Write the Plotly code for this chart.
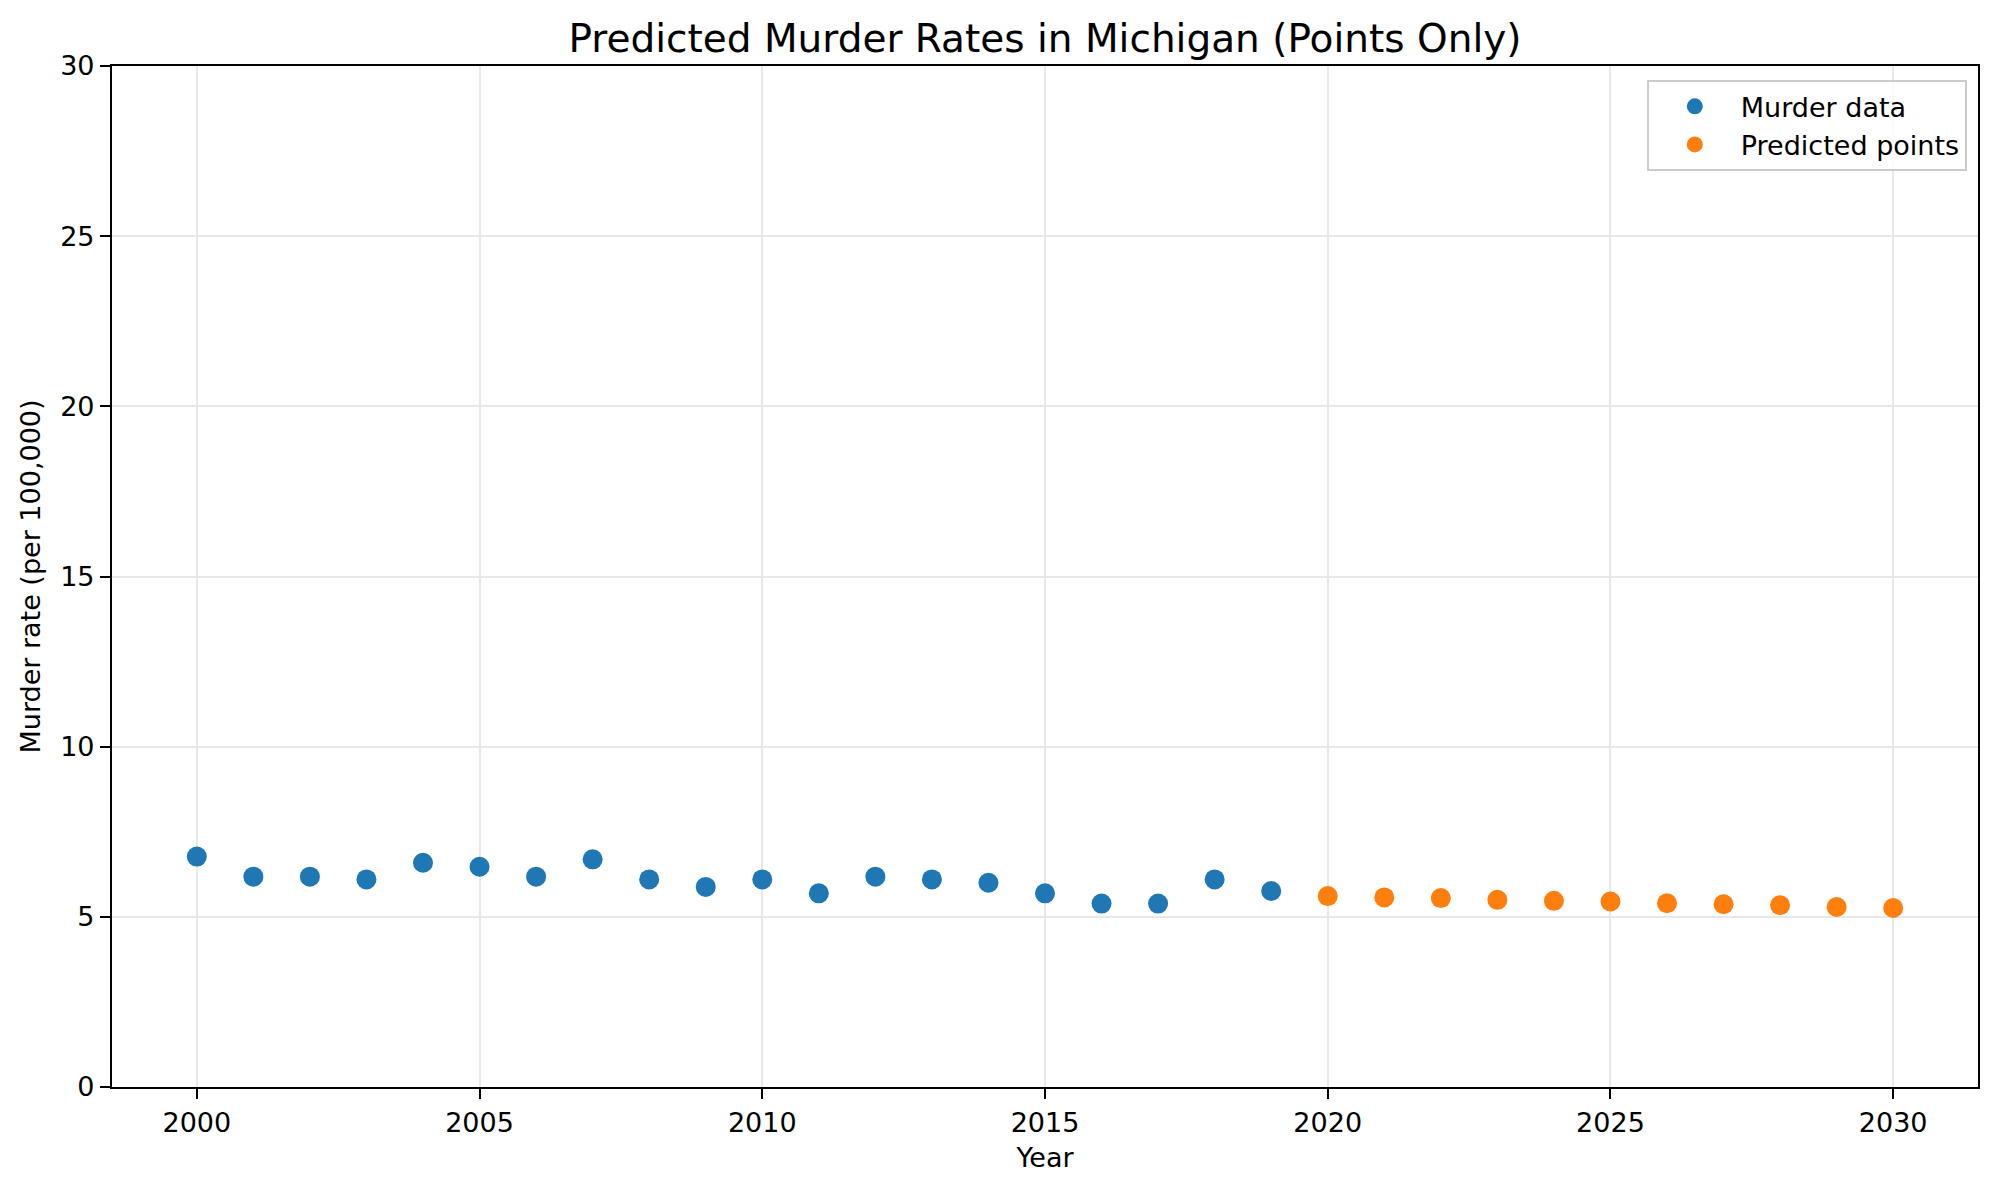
import plotly.graph_objects as go

years_actual = list(range(2000, 2020))
rates_actual = [6.77, 6.18, 6.18, 6.10, 6.59, 6.47, 6.18, 6.69, 6.10, 5.88,
                6.10, 5.69, 6.18, 6.10, 6.00, 5.69, 5.39, 5.39, 6.10, 5.76]
years_pred = list(range(2020, 2031))
rates_pred = [5.61, 5.57, 5.55, 5.50, 5.47, 5.45, 5.40, 5.37, 5.34, 5.29, 5.26]

x_ticks = [2000, 2005, 2010, 2015, 2020, 2025, 2030]
y_ticks = [0, 5, 10, 15, 20, 25, 30]

FONT = "DejaVu Sans"
W, H = 1984, 1175

fig = go.Figure()
fig.add_trace(go.Scatter(x=years_actual, y=rates_actual, mode="markers",
                         name="Murder data",
                         marker=dict(color="#1f77b4", size=20, line=dict(width=0))))
fig.add_trace(go.Scatter(x=years_pred, y=rates_pred, mode="markers",
                         name="Predicted points",
                         marker=dict(color="#ff7f0e", size=20, line=dict(width=0))))

axis_common = dict(showline=True, linecolor="black", linewidth=2.2, mirror=True,
                   ticks="outside", ticklen=10, tickwidth=2.2, tickcolor="black",
                   showgrid=True, gridcolor="#e8e8e8", gridwidth=2,
                   zeroline=False, tickfont=dict(family=FONT, size=27, color="black"))

fig.update_layout(
    width=W, height=H,
    paper_bgcolor="white", plot_bgcolor="white",
    margin=dict(l=104, r=12, t=58, b=96),
    title=dict(text="Predicted Murder Rates in Michigan (Points Only)",
               x=0.5, xref="paper", xanchor="center", y=1 - 30 / H, yanchor="middle",
               font=dict(family=FONT, size=39, color="black")),
    xaxis=dict(range=[1998.5, 2031.5], tickvals=x_ticks,
               title=dict(text="Year", font=dict(family=FONT, size=27, color="black"), standoff=12),
               **axis_common),
    yaxis=dict(range=[0, 30], tickvals=y_ticks,
               title=dict(text="Murder rate (per 100,000)", font=dict(family=FONT, size=27, color="black"), standoff=12),
               **axis_common),
    legend=dict(x=0.994, y=0.986, xanchor="right", yanchor="top",
                bgcolor="rgba(255,255,255,0.8)", bordercolor="#cccccc", borderwidth=2,
                font=dict(family=FONT, size=27, color="black"),
                itemsizing="trace", itemwidth=82, tracegroupgap=0),
    showlegend=True,
)

fig.write_html("out.html")
